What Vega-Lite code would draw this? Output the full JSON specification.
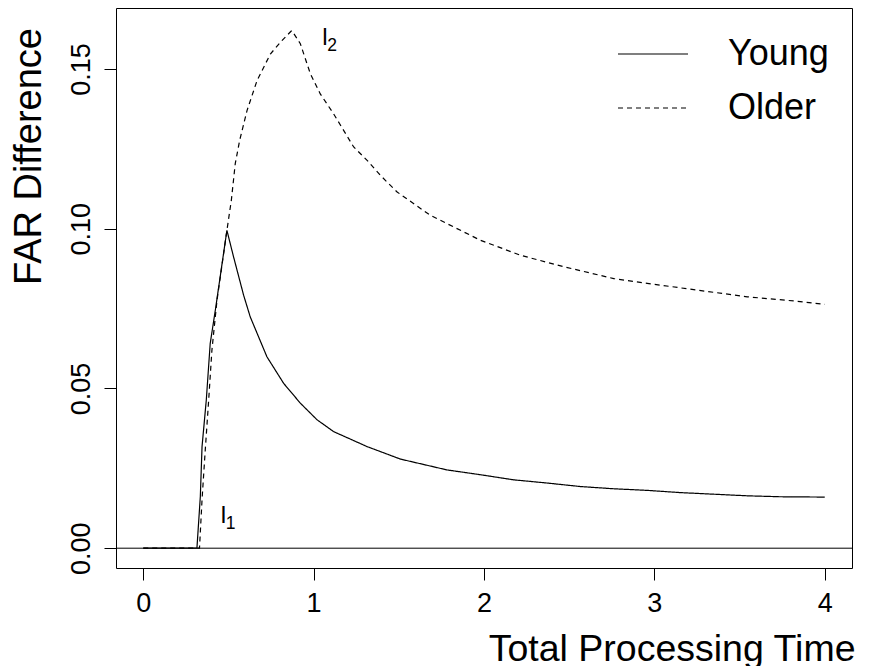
{
  "$schema": "https://vega.github.io/schema/vega-lite/v6.json",
  "width": 736,
  "height": 560,
  "autosize": {"type": "none"},
  "padding": {"left": 116, "top": 8, "right": 18, "bottom": 98},
  "background": "white",
  "datasets": {
    "curves": [
      {"t": 0, "far": 0, "group": "Young"},
      {"t": 0.30, "far": 0, "group": "Young"},
      {"t": 0.315, "far": 0, "group": "Young"},
      {"t": 0.335, "far": 0.0162, "group": "Young"},
      {"t": 0.345, "far": 0.0318, "group": "Young"},
      {"t": 0.370, "far": 0.0464, "group": "Young"},
      {"t": 0.393, "far": 0.0641, "group": "Young"},
      {"t": 0.423, "far": 0.0745, "group": "Young"},
      {"t": 0.491, "far": 0.0995, "group": "Young"},
      {"t": 0.530, "far": 0.0912, "group": "Young"},
      {"t": 0.589, "far": 0.0792, "group": "Young"},
      {"t": 0.628, "far": 0.0724, "group": "Young"},
      {"t": 0.726, "far": 0.0599, "group": "Young"},
      {"t": 0.824, "far": 0.0516, "group": "Young"},
      {"t": 0.922, "far": 0.0454, "group": "Young"},
      {"t": 1.020, "far": 0.0402, "group": "Young"},
      {"t": 1.117, "far": 0.0365, "group": "Young"},
      {"t": 1.314, "far": 0.0318, "group": "Young"},
      {"t": 1.509, "far": 0.0279, "group": "Young"},
      {"t": 1.783, "far": 0.0245, "group": "Young"},
      {"t": 1.979, "far": 0.0230, "group": "Young"},
      {"t": 2.174, "far": 0.0214, "group": "Young"},
      {"t": 2.370, "far": 0.0204, "group": "Young"},
      {"t": 2.566, "far": 0.0193, "group": "Young"},
      {"t": 2.762, "far": 0.0186, "group": "Young"},
      {"t": 2.958, "far": 0.0181, "group": "Young"},
      {"t": 3.153, "far": 0.0174, "group": "Young"},
      {"t": 3.349, "far": 0.0169, "group": "Young"},
      {"t": 3.545, "far": 0.0164, "group": "Young"},
      {"t": 3.740, "far": 0.0161, "group": "Young"},
      {"t": 4.0, "far": 0.0160, "group": "Young"},
      {"t": 0, "far": 0, "group": "Older"},
      {"t": 0.33, "far": 0, "group": "Older"},
      {"t": 0.345, "far": 0.0152, "group": "Older"},
      {"t": 0.364, "far": 0.0308, "group": "Older"},
      {"t": 0.384, "far": 0.0464, "group": "Older"},
      {"t": 0.403, "far": 0.0620, "group": "Older"},
      {"t": 0.433, "far": 0.0777, "group": "Older"},
      {"t": 0.491, "far": 0.0995, "group": "Older"},
      {"t": 0.517, "far": 0.1089, "group": "Older"},
      {"t": 0.540, "far": 0.1204, "group": "Older"},
      {"t": 0.566, "far": 0.1277, "group": "Older"},
      {"t": 0.609, "far": 0.1370, "group": "Older"},
      {"t": 0.668, "far": 0.1464, "group": "Older"},
      {"t": 0.746, "far": 0.1547, "group": "Older"},
      {"t": 0.814, "far": 0.1589, "group": "Older"},
      {"t": 0.867, "far": 0.1618, "group": "Older"},
      {"t": 0.873, "far": 0.1620, "group": "Older"},
      {"t": 0.922, "far": 0.1579, "group": "Older"},
      {"t": 0.981, "far": 0.1485, "group": "Older"},
      {"t": 1.039, "far": 0.1422, "group": "Older"},
      {"t": 1.117, "far": 0.1360, "group": "Older"},
      {"t": 1.235, "far": 0.1256, "group": "Older"},
      {"t": 1.314, "far": 0.1214, "group": "Older"},
      {"t": 1.392, "far": 0.1167, "group": "Older"},
      {"t": 1.490, "far": 0.1115, "group": "Older"},
      {"t": 1.685, "far": 0.1042, "group": "Older"},
      {"t": 1.979, "far": 0.0964, "group": "Older"},
      {"t": 2.214, "far": 0.0917, "group": "Older"},
      {"t": 2.468, "far": 0.0881, "group": "Older"},
      {"t": 2.762, "far": 0.0844, "group": "Older"},
      {"t": 2.958, "far": 0.0829, "group": "Older"},
      {"t": 3.251, "far": 0.0808, "group": "Older"},
      {"t": 3.545, "far": 0.0787, "group": "Older"},
      {"t": 3.838, "far": 0.0773, "group": "Older"},
      {"t": 4.0, "far": 0.0763, "group": "Older"}
    ],
    "labels": [
      {"t": 0.452, "far": 0.0078, "main": "I", "sub": "1"},
      {"t": 1.047, "far": 0.1576, "main": "I", "sub": "2"}
    ],
    "zero": [{"far": 0}]
  },
  "layer": [
    {
      "data": {"name": "zero"},
      "mark": {"type": "rule", "color": "black", "strokeWidth": 1},
      "encoding": {"y": {"field": "far", "type": "quantitative"}}
    },
    {
      "data": {"name": "curves"},
      "mark": {"type": "line", "color": "black", "strokeWidth": 1.2, "clip": true},
      "encoding": {
        "x": {
          "field": "t", "type": "quantitative",
          "scale": {"domain": [-0.16, 4.16], "nice": false, "zero": false},
          "axis": {
            "values": [0, 1, 2, 3, 4], "format": "d",
            "title": "Total Processing Time",
            "titleX": 739, "titleY": 92.7, "titleAlign": "right", "titleBaseline": "alphabetic",
            "titleAnchor": "end", "titleAngle": 0,
            "labelPadding": 10, "labelBaseline": "top", "labelAlign": "center"
          }
        },
        "y": {
          "field": "far", "type": "quantitative",
          "scale": {"domain": [-0.0062, 0.1691], "nice": false, "zero": false},
          "axis": {
            "values": [0, 0.05, 0.1, 0.15], "format": ".2f",
            "title": "FAR Difference",
            "titleX": -75.3, "titleY": 148, "titleAngle": -90, "titleAlign": "center", "titleBaseline": "alphabetic",
            "titleFontSize": 38,
            "labelAngle": -90, "labelAlign": "center", "labelBaseline": "alphabetic", "labelPadding": 15
          }
        },
        "strokeDash": {
          "field": "group", "type": "nominal",
          "scale": {"domain": ["Young", "Older"], "range": [[1, 0], [5, 4]]},
          "legend": {
            "title": null, "orient": "none", "legendX": 501, "legendY": 10,
            "symbolType": "stroke", "symbolSize": 4900, "symbolStrokeWidth": 1.2,
            "symbolStrokeColor": "black", "symbolFillColor": "black",
            "labelFontSize": 36, "labelOffset": 39, "rowPadding": 0, "padding": 0,
            "labelColor": "black", "labelFont": "Liberation Sans"
          }
        }
      }
    },
    {
      "data": {"name": "labels"},
      "mark": {"type": "text", "align": "left", "baseline": "alphabetic", "fontSize": 23, "color": "black"},
      "encoding": {
        "x": {"field": "t", "type": "quantitative"},
        "y": {"field": "far", "type": "quantitative"},
        "text": {"field": "main"}
      }
    },
    {
      "data": {"name": "labels"},
      "mark": {"type": "text", "align": "left", "baseline": "alphabetic", "fontSize": 17.5, "dx": 5.5, "dy": 6, "color": "black"},
      "encoding": {
        "x": {"field": "t", "type": "quantitative"},
        "y": {"field": "far", "type": "quantitative"},
        "text": {"field": "sub"}
      }
    }
  ],
  "config": {
    "font": "Liberation Sans",
    "view": {"stroke": "black", "strokeWidth": 1},
    "axis": {
      "grid": false, "domain": false,
      "tickSize": 12, "tickColor": "black", "tickWidth": 1,
      "labelFontSize": 27, "labelColor": "black", "labelFont": "Liberation Sans",
      "titleFontSize": 37.5, "titleFontWeight": "normal", "titleColor": "black", "titleFont": "Liberation Sans",
      "labelOverlap": false, "labelFlush": false
    },
    "text": {"font": "Liberation Sans"}
  }
}
